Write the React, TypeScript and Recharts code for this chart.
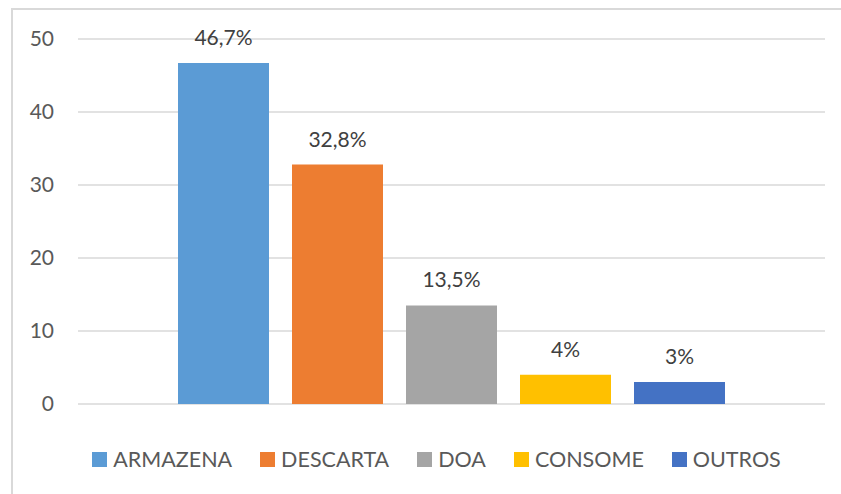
import { BarChart, Bar, XAxis, YAxis, CartesianGrid, LabelList } from 'recharts';

const seriesNames = ['ARMAZENA', 'DESCARTA', 'DOA', 'CONSOME', 'OUTROS'];
const seriesValues = [46.7, 32.8, 13.5, 4, 3];
const seriesColors = ['#5B9BD5', '#ED7D31', '#A5A5A5', '#FFC000', '#4472C4'];
const yTicks = [0, 10, 20, 30, 40, 50];

const row: Record<string, string | number> = { name: '' };
seriesNames.forEach((n, i) => {
  row[n] = seriesValues[i];
});
const data = [row];

const FONT = 'Lato, "Open Sans", sans-serif';

const fmt = (v: unknown) => `${String(v).replace('.', ',')}%`;

export default function App() {
  return (
    <div style={{ position: 'relative', width: 841, height: 494, overflow: 'hidden', background: '#fff' }}>
      <style>{'body{margin:0;overflow:hidden}'}</style>
      <div
        style={{
          position: 'absolute',
          left: 11,
          top: 8,
          width: 900,
          height: 600,
          borderTop: '2px solid #d9d9d9',
          borderLeft: '2px solid #d9d9d9',
        }}
      />
      <div style={{ position: 'absolute', left: 0, top: 0 }}>
        <BarChart
          width={841}
          height={494}
          data={data}
          margin={{ top: 39, right: 16, bottom: 90, left: 18 }}
          barSize={91}
          barGap={23}
        >
          <CartesianGrid vertical={false} stroke="#d9d9d9" strokeWidth={1.5} />
          <XAxis dataKey="name" hide />
          <YAxis
            domain={[0, 50]}
            ticks={yTicks}
            width={60}
            axisLine={false}
            tickLine={false}
            tickSize={0}
            tickMargin={24}
            tick={{ fill: '#595959', fontSize: 21, fontFamily: FONT }}
          />
          {seriesNames.map((n, i) => (
            <Bar key={n} dataKey={n} fill={seriesColors[i]} isAnimationActive={false}>
              <LabelList
                dataKey={n}
                position="top"
                offset={18}
                formatter={fmt}
                style={{ fill: '#404040', fontSize: 21, fontFamily: FONT }}
              />
            </Bar>
          ))}
        </BarChart>
      </div>
      <div
        style={{
          position: 'absolute',
          left: 0,
          top: 446,
          width: 841,
          boxSizing: 'border-box',
          paddingLeft: 32,
          display: 'flex',
          justifyContent: 'center',
          fontFamily: FONT,
          fontSize: 21.5,
          color: '#595959',
          lineHeight: '26px',
        }}
      >
        {seriesNames.map((n, i) => (
          <div key={n} style={{ display: 'flex', alignItems: 'center', margin: '0 14px' }}>
            <span style={{ width: 15, height: 15, background: seriesColors[i], marginRight: 6, display: 'inline-block' }} />
            <span>{n}</span>
          </div>
        ))}
      </div>
    </div>
  );
}
